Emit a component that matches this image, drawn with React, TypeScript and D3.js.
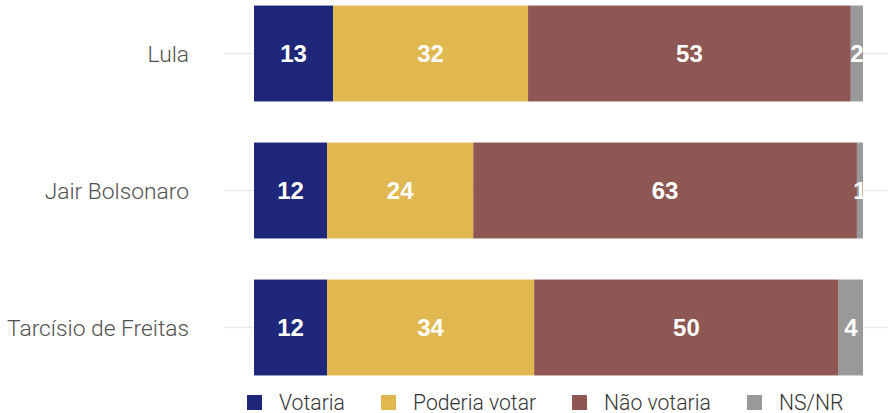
import React from "react";
import * as d3 from "d3";

const candidates = ["Lula", "Jair Bolsonaro", "Tarcísio de Freitas"];
const seriesNames = ["Votaria", "Poderia votar", "Não votaria", "NS/NR"];
const votaria = [13, 12, 12];
const poderia = [32, 24, 34];
const naoVotaria = [53, 63, 50];
const nsnr = [2, 1, 4];
const colors = ["#1f277a", "#e0b84f", "#8f5754", "#999999"];

const W = 888;
const H = 413;

export default function App() {
  const series = [votaria, poderia, naoVotaria, nsnr];
  const x = d3.scaleLinear().domain([0, 100]).range([254, 863]);
  const y = d3.scaleBand().domain(candidates).range([-15, 396]).paddingInner(0.3).paddingOuter(0.15);
  const bw = y.bandwidth();
  const rows = candidates.map((c, i) => {
    let acc = 0;
    return series.map((s, k) => {
      const x0 = acc;
      acc += s[i];
      return { k, x0, x1: acc, v: s[i] };
    });
  });
  const legendX = [247, 381, 572, 747];
  return (
    <svg width={W} height={H} style={{ position: "absolute", left: 0, top: 0 }}>
      <rect width={W} height={H} fill="#fff" />
      {candidates.map((c, i) => {
        const cy = (y(c) as number) + bw / 2;
        return (
          <g key={c}>
            <line x1={224} x2={888} y1={cy} y2={cy} stroke="#ebebeb" strokeWidth={1.5} />
            <text x={189} y={cy} dy="0.36em" textAnchor="end" fontFamily="Roboto" fontWeight={300} fontSize={22.8} fill="#505050">
              {c}
            </text>
            {rows[i].map((seg) => (
              <rect key={seg.k} x={x(seg.x0)} y={y(c)} width={x(seg.x1) - x(seg.x0)} height={bw} fill={colors[seg.k]} />
            ))}
            {rows[i].map((seg) => (
              <text key={"t" + seg.k} x={(x(seg.x0) + x(seg.x1)) / 2} y={cy} dy="0.36em" textAnchor="middle" fontFamily="Liberation Sans, Arial" fontWeight={700} fontSize={24} fill="#fff">
                {seg.v}
              </text>
            ))}
          </g>
        );
      })}
      {seriesNames.map((n, k) => (
        <g key={n}>
          <rect x={legendX[k]} y={395} width={15} height={15} fill={colors[k]} />
          <text x={legendX[k] + 32} y={409.5} fontFamily="Roboto" fontWeight={300} fontSize={21.2} fill="#333">
            {n}
          </text>
        </g>
      ))}
    </svg>
  );
}
